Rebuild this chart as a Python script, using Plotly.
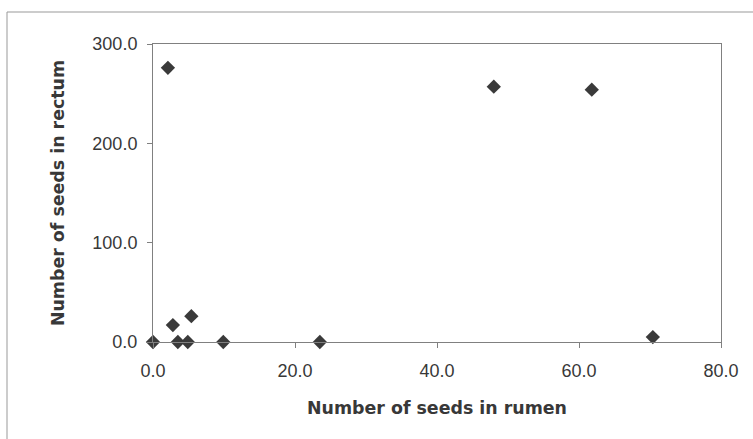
import plotly.graph_objects as go

rumen = [0.0, 2.1, 2.8, 3.5, 4.9, 5.4, 9.9, 23.5, 48.0, 61.8, 70.4]
rectum = [0.0, 276.0, 17.0, 0.0, 0.0, 26.0, 0.0, 0.0, 257.0, 254.0, 5.0]
x_ticks = [0, 20, 40, 60, 80]
x_tick_labels = ["0.0", "20.0", "40.0", "60.0", "80.0"]
y_ticks = [0, 100, 200, 300]
y_tick_labels = ["0.0", "100.0", "200.0", "300.0"]

fig = go.Figure()
fig.add_trace(go.Scatter(
    x=rumen, y=rectum, mode="markers",
    marker=dict(symbol="diamond", size=11, color="#3a3a3a"),
    cliponaxis=False, showlegend=False,
))

W, H = 753, 439
L, R, T, B = 153, 32, 44, 97
pw, ph = W - L - R, H - T - B

def px(x):
    return (x - L) / pw

def py(y):
    return (H - B - y) / ph

fig.update_layout(
    width=W, height=H,
    margin=dict(l=L, r=R, t=T, b=B, autoexpand=False),
    paper_bgcolor="white", plot_bgcolor="white",
    font=dict(family="Liberation Sans, Arial, sans-serif", color="#333333"),
    xaxis=dict(
        range=[0, 80], tickvals=x_ticks, ticktext=x_tick_labels,
        showgrid=False, zeroline=False, showline=True, linecolor="#808080",
        linewidth=1, mirror=True, ticks="outside", ticklen=5, tickcolor="#808080",
        tickfont=dict(size=18, color="#383838"), ticklabelstandoff=7,
        title=dict(text="<b>Number of seeds in rumen</b>",
                   font=dict(size=17.4, family="DejaVu Sans", color="#383838"), standoff=22),
    ),
    yaxis=dict(
        range=[0, 300], tickvals=y_ticks, ticktext=y_tick_labels,
        showgrid=False, zeroline=False, showline=True, linecolor="#808080",
        linewidth=1, mirror=True, ticks="outside", ticklen=5, tickcolor="#808080",
        tickfont=dict(size=18, color="#383838"), ticklabelstandoff=6,
        title=dict(text="<b>Number of seeds in rectum</b>",
                   font=dict(size=17.4, family="DejaVu Sans", color="#383838"), standoff=23),
    ),
    shapes=[
        dict(type="line", xref="paper", yref="paper", x0=px(7), x1=px(753), y0=py(12), y1=py(12),
             line=dict(color="#999999", width=1)),
        dict(type="line", xref="paper", yref="paper", x0=px(7), x1=px(7), y0=py(12), y1=py(439),
             line=dict(color="#999999", width=1)),
    ],
)

fig.write_html("out.html", config={"displayModeBar": False},
               post_script="document.body.style.margin='0';")
